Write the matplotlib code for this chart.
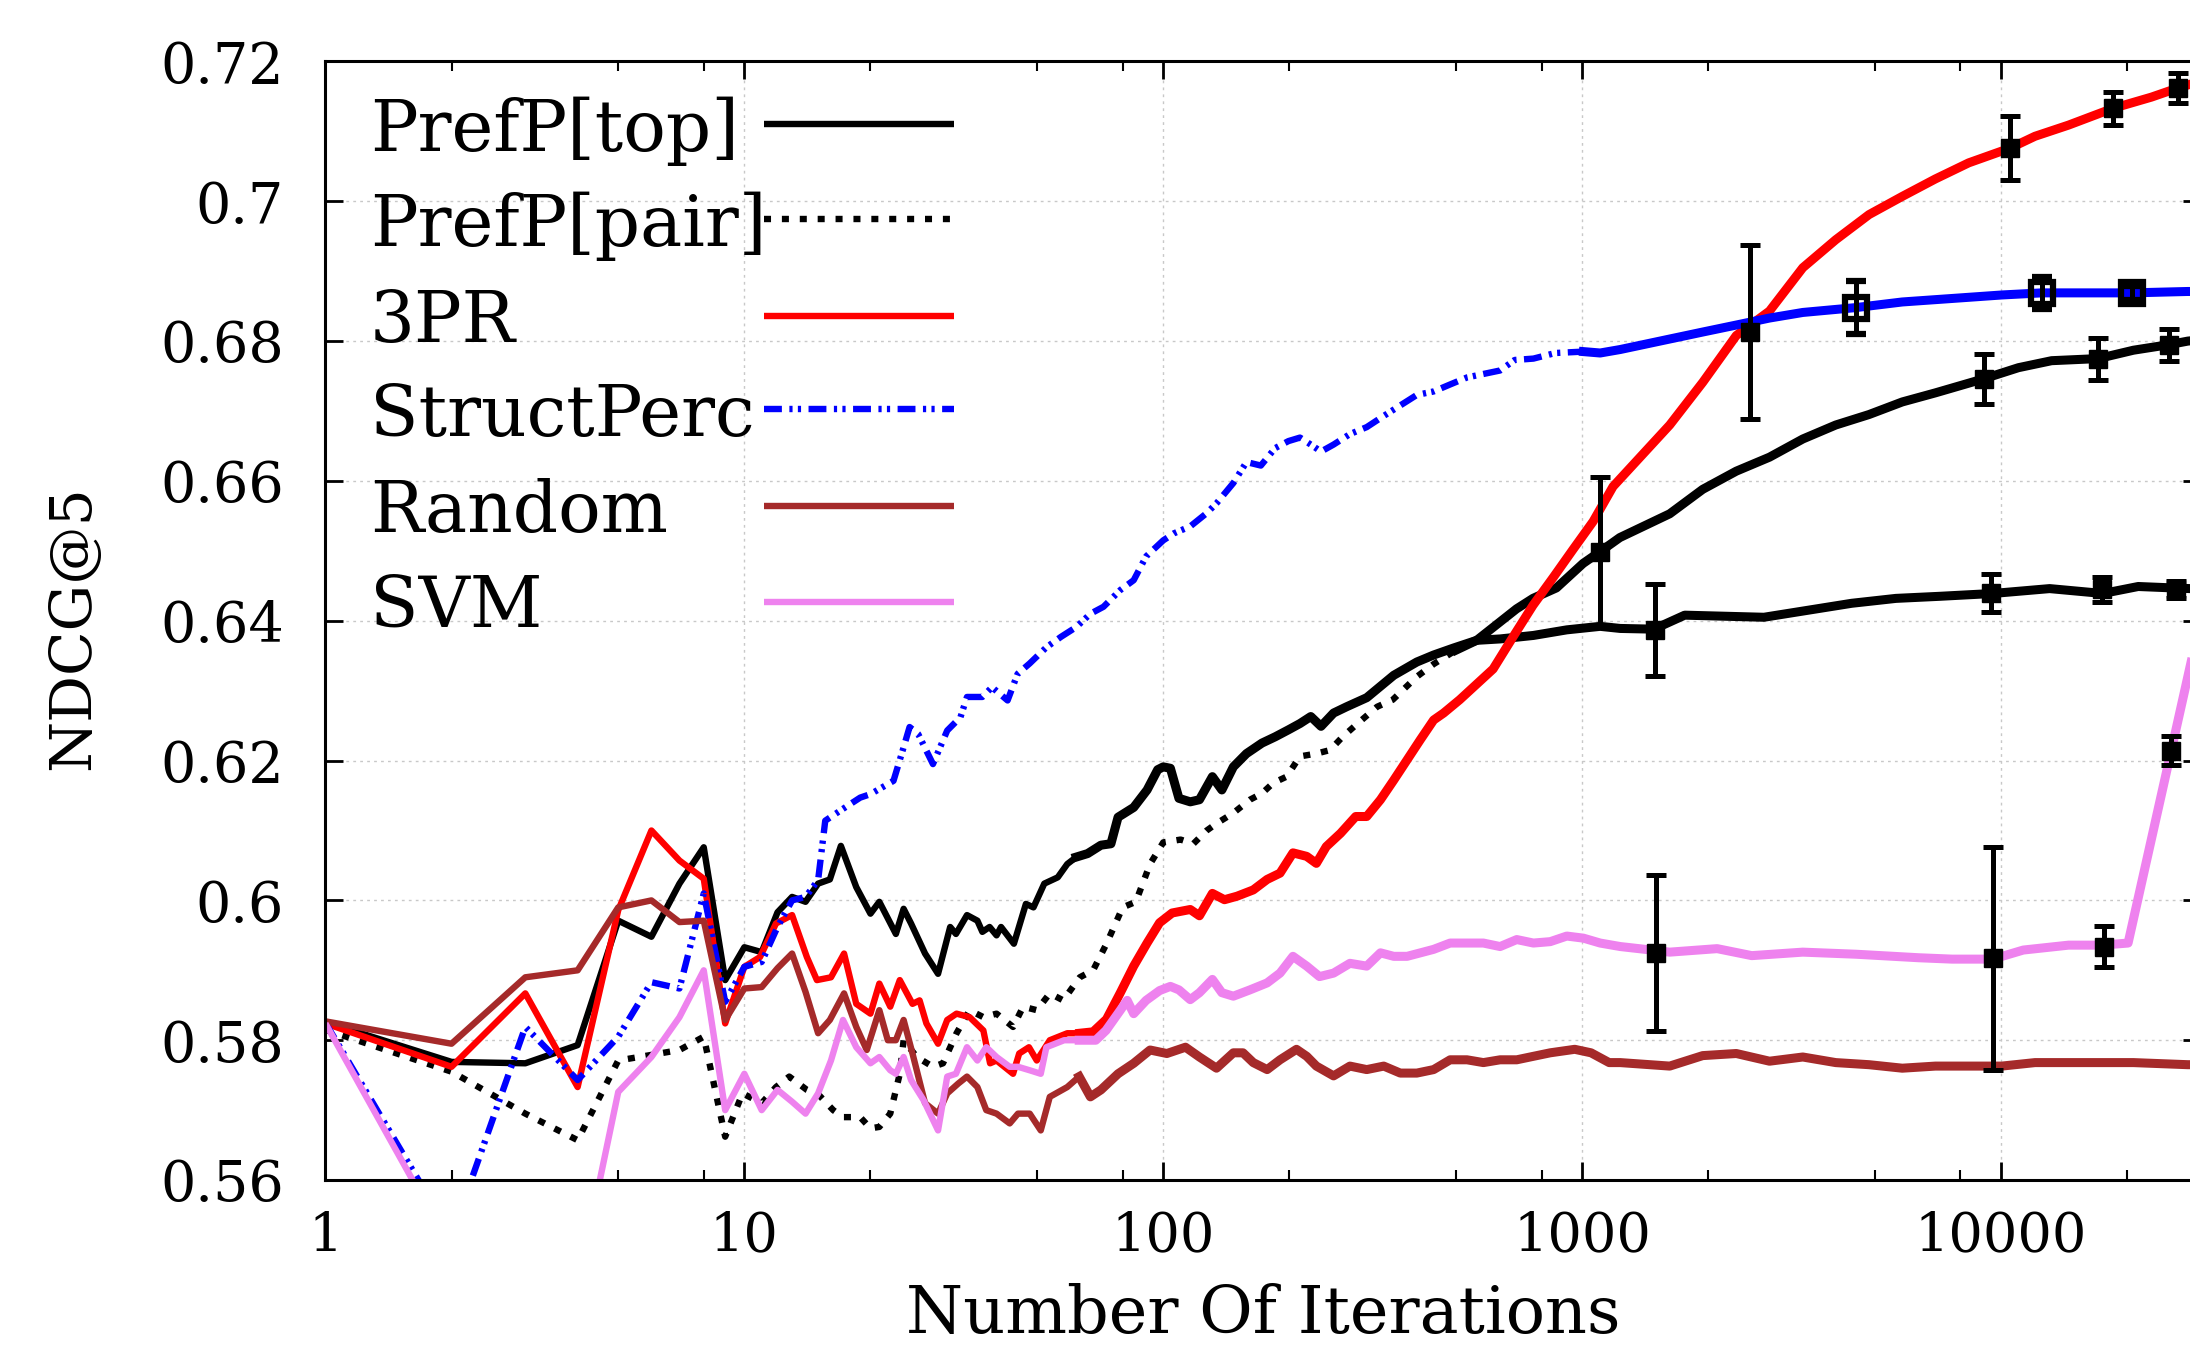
import matplotlib.pyplot as plt
from matplotlib.ticker import FixedLocator, LogLocator, NullFormatter

plt.rcParams["font.family"] = ["DejaVu Serif"]

# ---- values (x = iterations, y = NDCG@5) ----
top_x = [1, 2, 3, 4, 5, 6, 7, 8, 9, 10, 11, 12, 13, 14, 15, 16, 17, 18.5, 20, 21, 23, 24, 25, 27, 29,
         31, 32, 34, 36, 37, 38.5, 40, 41, 44, 47, 49, 52, 56, 59, 62, 66, 71, 75, 78, 85, 91.5, 97,
         100, 104, 109, 116, 122, 131, 138, 147, 158, 172, 185, 199, 212, 225, 238, 255, 274, 306,
         355, 403, 442, 493, 560, 637, 765, 919, 1104, 1233, 1483, 1757, 2716, 4400, 5610, 7150,
         9540, 13060, 17500, 21250, 28200, 30000]
top_y = [0.5826, 0.5769, 0.5767, 0.5793, 0.5971, 0.5948, 0.6024, 0.6076, 0.5886, 0.5933, 0.5926,
         0.5983, 0.6005, 0.5998, 0.6024, 0.6030, 0.6078, 0.6019, 0.5981, 0.5998, 0.5952, 0.5988,
         0.5967, 0.5924, 0.5895, 0.5962, 0.5952, 0.5979, 0.5971, 0.5955, 0.5962, 0.5950, 0.5962,
         0.5938, 0.5995, 0.5990, 0.6024, 0.6033, 0.6052, 0.6062, 0.6067, 0.6079, 0.6081, 0.6119,
         0.6133, 0.6158, 0.6187, 0.6191, 0.6189, 0.6146, 0.6141, 0.6144, 0.6177, 0.6158, 0.6191,
         0.6210, 0.6225, 0.6234, 0.6244, 0.6253, 0.6263, 0.6249, 0.6268, 0.6277, 0.6290, 0.6322,
         0.6341, 0.6351, 0.6361, 0.6372, 0.6374, 0.6379, 0.6387, 0.6392, 0.6389, 0.6388, 0.6408,
         0.6405, 0.6425, 0.6432, 0.6435, 0.6439, 0.6446, 0.6439, 0.6449, 0.6446, 0.6447]

pair_x = [1, 2, 3, 4, 5, 6, 7, 8, 9, 9.9, 11, 11.9, 12.8, 14.1, 15.1, 16.3, 17.2, 18.9, 20, 21,
          22.3, 23.5, 24, 25.8, 28.2, 29.8, 32.1, 34.5, 37.2, 40, 43.8, 46.3, 49.9, 53.6, 57.7,
          63.2, 68, 73.2, 80, 86, 93, 100, 110, 118, 127, 134, 147, 161, 172, 183, 197, 212, 232,
          250, 268, 291, 324, 353, 403, 442, 500, 560, 697, 763, 868, 1005, 1104, 1230, 1618, 1940,
          2333, 2800, 3363, 4030, 4840, 5810, 6970, 9080, 11000, 13200, 17050, 20700, 25200, 27900,
          30000]
pair_y = [0.5815, 0.5755, 0.5695, 0.5657, 0.5771, 0.5779, 0.5786, 0.5805, 0.5662, 0.5724, 0.5710,
          0.5733, 0.5748, 0.5729, 0.5721, 0.5700, 0.5690, 0.5690, 0.5674, 0.5676, 0.5695, 0.5752,
          0.5800, 0.5776, 0.5762, 0.5767, 0.5810, 0.5843, 0.5833, 0.5838, 0.5819, 0.5848, 0.5843,
          0.5867, 0.5857, 0.5890, 0.5900, 0.5938, 0.5990, 0.5998, 0.6052, 0.6083, 0.6087, 0.6081,
          0.6100, 0.6110, 0.6125, 0.6144, 0.6153, 0.6168, 0.6177, 0.6206, 0.6210, 0.6215, 0.6234,
          0.6253, 0.6277, 0.6287, 0.6320, 0.6338, 0.6358, 0.6372, 0.6417, 0.6432, 0.6447, 0.6482,
          0.6499, 0.6519, 0.6553, 0.6588, 0.6614, 0.6634, 0.6660, 0.6680, 0.6695, 0.6713, 0.6726,
          0.6746, 0.6762, 0.6772, 0.6775, 0.6787, 0.6795, 0.6800, 0.6802]

pr3_x = [1, 2, 3, 4, 5, 6, 7, 8, 9, 10, 10.9, 11.9, 13, 14.1, 14.9, 16.1, 17.3, 18.5, 20, 21, 22.3,
         23.5, 25.2, 26.2, 27.2, 29, 30.5, 32.1, 34.5, 37.2, 38.6, 40, 43.8, 45.3, 47.8, 49.9, 53.6,
         59, 63.2, 68, 73.2, 79, 85, 91.5, 98, 105, 116, 122, 131, 140, 150, 164, 177, 190, 204, 220,
         232, 245, 265, 288, 306, 330, 355, 382, 411, 442, 467, 510, 613, 684, 763, 853, 951, 1062,
         1185, 1618, 1940, 2333, 2800, 3363, 4030, 4840, 5810, 6970, 8370, 10500, 12050, 14490,
         18500, 22850, 26400, 30000]
pr3_y = [0.5824, 0.5762, 0.5867, 0.5733, 0.5986, 0.6100, 0.6057, 0.6031, 0.5824, 0.5905, 0.5919,
         0.5967, 0.5979, 0.5919, 0.5886, 0.5890, 0.5924, 0.5852, 0.5838, 0.5881, 0.5848, 0.5886,
         0.5852, 0.5857, 0.5824, 0.5795, 0.5829, 0.5838, 0.5833, 0.5814, 0.5767, 0.5771, 0.5752,
         0.5781, 0.5790, 0.5771, 0.5800, 0.5810, 0.5810, 0.5812, 0.5830, 0.5868, 0.5906, 0.5939,
         0.5968, 0.5982, 0.5987, 0.5978, 0.6010, 0.6001, 0.6006, 0.6015, 0.6030, 0.6039, 0.6068,
         0.6063, 0.6053, 0.6077, 0.6096, 0.6120, 0.6120, 0.6144, 0.6172, 0.6201, 0.6230, 0.6258,
         0.6268, 0.6287, 0.6331, 0.6377, 0.6422, 0.6462, 0.6502, 0.6542, 0.6592, 0.6680, 0.6741,
         0.6808, 0.6843, 0.6905, 0.6945, 0.6981, 0.7007, 0.7032, 0.7055, 0.7076, 0.7093, 0.7109,
         0.7133, 0.7149, 0.7162, 0.7172]

sp_x = [1, 2, 3, 4, 5, 6, 7, 8, 9, 10, 11, 12, 13, 14, 15, 15.6, 17, 18.9, 20, 22.7, 24, 24.8, 26,
        28.2, 30.5, 32.8, 34, 37, 39, 42.5, 44.9, 48, 52.6, 57, 62, 67, 72, 79, 85, 91, 100, 106,
        116, 127, 134, 147, 158, 171, 185, 199, 212, 225, 238, 255, 279, 306, 336, 368, 403, 442,
        484, 531, 581, 637, 690, 765, 863, 1007, 1104, 1233, 1618, 1940, 2333, 2800, 3363, 4510,
        5810, 7640, 10040, 12500, 15850, 20500, 27900, 30000]
sp_y = [0.5825, 0.5520, 0.5819, 0.5743, 0.5805, 0.5883, 0.5874, 0.6010, 0.5855, 0.5905, 0.5912,
        0.5962, 0.6000, 0.6005, 0.6029, 0.6114, 0.6129, 0.6147, 0.6152, 0.6171, 0.6219, 0.6248,
        0.6238, 0.6195, 0.6243, 0.6262, 0.6291, 0.6291, 0.6305, 0.6286, 0.6324, 0.6339, 0.6362,
        0.6377, 0.6391, 0.6410, 0.6420, 0.6444, 0.6458, 0.6492, 0.6515, 0.6525, 0.6535, 0.6554,
        0.6568, 0.6597, 0.6627, 0.6622, 0.6647, 0.6657, 0.6662, 0.6652, 0.6642, 0.6652, 0.6667,
        0.6677, 0.6693, 0.6708, 0.6723, 0.6728, 0.6738, 0.6748, 0.6753, 0.6758, 0.6773, 0.6775,
        0.6783, 0.6785, 0.6783, 0.6788, 0.6803, 0.6813, 0.6823, 0.6833, 0.6841, 0.6848, 0.6856,
        0.6861, 0.6866, 0.6869, 0.6869, 0.6869, 0.6871, 0.6871]

rnd_x = [1, 2, 3, 4, 5, 6, 7, 8, 9, 10, 11, 12, 13, 14, 15, 16, 17.3, 18.5, 19.6, 21, 22, 23, 24,
         25.2, 27, 29, 30.5, 32.4, 34, 36, 37.8, 40, 43, 45, 48, 51, 53.6, 59, 63, 67, 71, 78, 85,
         93, 102, 113, 122, 134, 147, 155, 164, 177, 190, 208, 220, 232, 255, 279, 306, 336, 368,
         403, 442, 484, 531, 581, 637, 698, 765, 839, 960, 1050, 1160, 1233, 1618, 1940, 2333,
         2800, 3363, 4030, 4840, 5810, 6970, 8370, 10040, 12050, 14490, 17400, 20700, 27900, 30000]
rnd_y = [0.5827, 0.5795, 0.5890, 0.5900, 0.5990, 0.6000, 0.5969, 0.5971, 0.5829, 0.5874, 0.5876,
         0.5903, 0.5924, 0.5869, 0.5810, 0.5829, 0.5867, 0.5819, 0.5786, 0.5843, 0.5800, 0.5800,
         0.5829, 0.5781, 0.5710, 0.5695, 0.5724, 0.5738, 0.5748, 0.5733, 0.5700, 0.5695, 0.5681,
         0.5695, 0.5695, 0.5671, 0.5719, 0.5733, 0.5748, 0.5719, 0.5729, 0.5752, 0.5767, 0.5786,
         0.5781, 0.5790, 0.5776, 0.5760, 0.5782, 0.5782, 0.5768, 0.5758, 0.5772, 0.5787, 0.5777,
         0.5763, 0.5749, 0.5763, 0.5758, 0.5763, 0.5753, 0.5753, 0.5758, 0.5772, 0.5772, 0.5768,
         0.5772, 0.5772, 0.5777, 0.5782, 0.5787, 0.5782, 0.5768, 0.5768, 0.5763, 0.5778, 0.5781,
         0.5770, 0.5776, 0.5768, 0.5765, 0.5760, 0.5763, 0.5763, 0.5763, 0.5768, 0.5768, 0.5768,
         0.5768, 0.5765, 0.5765]

svm_x = [1, 2, 3, 4, 5, 6, 7, 8, 9, 10, 11, 12, 13, 14, 15, 16.1, 17.2, 18.5, 20, 21, 22.3, 23, 24,
         25, 26.8, 29, 30.5, 32, 34, 36, 37.8, 40, 43, 45, 48, 51, 52.6, 58, 63, 69, 73, 79, 82, 85,
         91, 98, 104, 109, 116, 122, 131, 138, 147, 161, 177, 190, 204, 220, 236, 255, 279, 306, 330,
         355, 382, 411, 442, 484, 531, 581, 637, 698, 765, 839, 919, 1007, 1104, 1233, 1618, 2100,
         2540, 3363, 4510, 6350, 7640, 9550, 11300, 14490, 17400, 20100, 25500, 30000]
svm_y = [0.5824, 0.5500, 0.5450, 0.5448, 0.5726, 0.5776, 0.5833, 0.5900, 0.5700, 0.5752, 0.5700,
         0.5729, 0.5712, 0.5695, 0.5724, 0.5771, 0.5829, 0.5790, 0.5767, 0.5776, 0.5757, 0.5752,
         0.5776, 0.5743, 0.5714, 0.5671, 0.5748, 0.5752, 0.5790, 0.5771, 0.5790, 0.5776, 0.5762,
         0.5762, 0.5757, 0.5752, 0.5790, 0.5800, 0.5800, 0.5800, 0.5814, 0.5843, 0.5857, 0.5838,
         0.5857, 0.5871, 0.5877, 0.5872, 0.5858, 0.5868, 0.5887, 0.5868, 0.5863, 0.5872, 0.5882,
         0.5896, 0.5920, 0.5906, 0.5891, 0.5896, 0.5910, 0.5906, 0.5925, 0.5920, 0.5920, 0.5925,
         0.5930, 0.5939, 0.5939, 0.5939, 0.5934, 0.5944, 0.5939, 0.5941, 0.5949, 0.5946, 0.5939,
         0.5934, 0.5926, 0.5931, 0.5921, 0.5926, 0.5923, 0.5918, 0.5916, 0.5916, 0.5929, 0.5936,
         0.5936, 0.5939, 0.6215, 0.6404]

# error bars (x, centre, half-width)
top_eb_x = [1490, 9480, 17400, 26200]
top_eb_y = [0.6387, 0.6440, 0.6445, 0.6445]
top_eb_e = [0.0066, 0.0027, 0.0018, 0.0012]
pair_eb_x = [1104, 9080, 17050, 25200]
pair_eb_y = [0.6499, 0.6746, 0.6775, 0.6795]
pair_eb_e = [0.0106, 0.0036, 0.0030, 0.0023]
pr3_eb_x = [2510, 10500, 18500, 26400]
pr3_eb_y = [0.6813, 0.7076, 0.7133, 0.7162]
pr3_eb_e = [0.0125, 0.0046, 0.0024, 0.0022]
sp_eb_x = [4510, 12500, 20500]
sp_eb_y = [0.6848, 0.6869, 0.6869]
sp_eb_e = [0.0038, 0.0023, 0.0010]
svm_eb_x = [1500, 9550, 17650, 25500]
svm_eb_y = [0.5925, 0.5917, 0.5934, 0.6214]
svm_eb_e = [0.0112, 0.0160, 0.0029, 0.0021]

labels = ["PrefP[top]", "PrefP[pair]", "3PR", "StructPerc", "Random", "SVM"]
x_ticks = [1, 10, 100, 1000, 10000]
y_ticks = [0.56, 0.58, 0.60, 0.62, 0.64, 0.66, 0.68, 0.70, 0.72]
y_tick_labels = ["0.56", "0.58", "0.6", "0.62", "0.64", "0.66", "0.68", "0.7", "0.72"]

LW = 4.6
dotted = (0, (1.1, 1.7))
dashdotdot = (0, (2.8, 1.17, 0.5, 0.83, 0.5, 1.17))
styles = [
    dict(color="black", ls="-"),
    dict(color="black", ls=dotted),
    dict(color="#ff0000", ls="-"),
    dict(color="#0000ff", ls=dashdotdot),
    dict(color="#a52a2a", ls="-"),
    dict(color="#ee82ee", ls="-"),
]
# where the per-iteration noise makes each curve look like a thick solid band
band_start = [60, 450, 60, 1000, 60, 60]

fig = plt.figure(figsize=(21.9, 13.57), dpi=100)
ax = fig.add_axes([0.1486, 0.1304, 0.8564, 0.8243])

data = [(top_x, top_y), (pair_x, pair_y), (pr3_x, pr3_y), (sp_x, sp_y), (rnd_x, rnd_y), (svm_x, svm_y)]
for (xs, ys), st, start in zip(data, styles, band_start):
    ax.plot(xs, ys, lw=LW, solid_capstyle="butt", **st)
    tx = [a for a in xs if a >= start]
    ty = [b for a, b in zip(xs, ys) if a >= start]
    ax.plot(tx, ty, color=st["color"], lw=6.5, solid_joinstyle="round")

eb_kw = dict(fmt="s", color="black", ecolor="black", elinewidth=3.6, capsize=7, capthick=3.6, zorder=6)
ax.errorbar(top_eb_x, top_eb_y, yerr=top_eb_e, ms=13, **eb_kw)
ax.errorbar(pair_eb_x, pair_eb_y, yerr=pair_eb_e, ms=13, **eb_kw)
ax.errorbar(pr3_eb_x, pr3_eb_y, yerr=pr3_eb_e, ms=13, **eb_kw)
ax.errorbar(sp_eb_x, sp_eb_y, yerr=sp_eb_e, ms=16, mfc="none", mec="black", mew=4.5, **eb_kw)
ax.errorbar(svm_eb_x, svm_eb_y, yerr=svm_eb_e, ms=13, **eb_kw)

ax.set_xscale("log")
ax.set_xlim(1, 30000)
ax.set_ylim(0.56, 0.72)
ax.xaxis.set_major_locator(FixedLocator(x_ticks))
ax.set_xticklabels([str(t) for t in x_ticks])
ax.xaxis.set_minor_locator(LogLocator(base=10, subs=(2, 5, 8)))
ax.xaxis.set_minor_formatter(NullFormatter())
ax.set_yticks(y_ticks)
ax.set_yticklabels(y_tick_labels)

ax.tick_params(which="both", direction="in", top=True, right=True, colors="black")
ax.tick_params(which="major", length=13, width=2)
ax.tick_params(which="minor", length=7, width=1.5)
ax.tick_params(axis="x", which="major", labelsize=39, pad=22)
ax.tick_params(axis="y", which="major", labelsize=40, pad=30)
for sp in ax.spines.values():
    sp.set_linewidth(2.2)

ax.grid(True, which="major", color="#c8c8c8", ls=(0, (2, 3)), lw=1)

ax.set_xlabel("Number Of Iterations", fontsize=47)
ax.xaxis.set_label_coords(0.5, -0.092)
ax.set_ylabel("NDCG@5", fontsize=42, va="center", ha="center", rotation=90)
ax.yaxis.set_label_coords(-0.1346, 0.494)

# gnuplot-style key: text on the left, sample line on the right
text_y = [0.920, 0.8351, 0.7492, 0.6652, 0.5794, 0.4944]
line_y = [0.9441, 0.8592, 0.7725, 0.6893, 0.6026, 0.5168]
for lab, ty, ly, st in zip(labels, text_y, line_y, styles):
    ax.text(0.0237, ty, lab, transform=ax.transAxes, fontsize=51, va="baseline", ha="left")
    ax.plot([0.2338, 0.3351], [ly, ly], transform=ax.transAxes, lw=LW, solid_capstyle="butt", **st)

fig.savefig("out.png", dpi=100)
